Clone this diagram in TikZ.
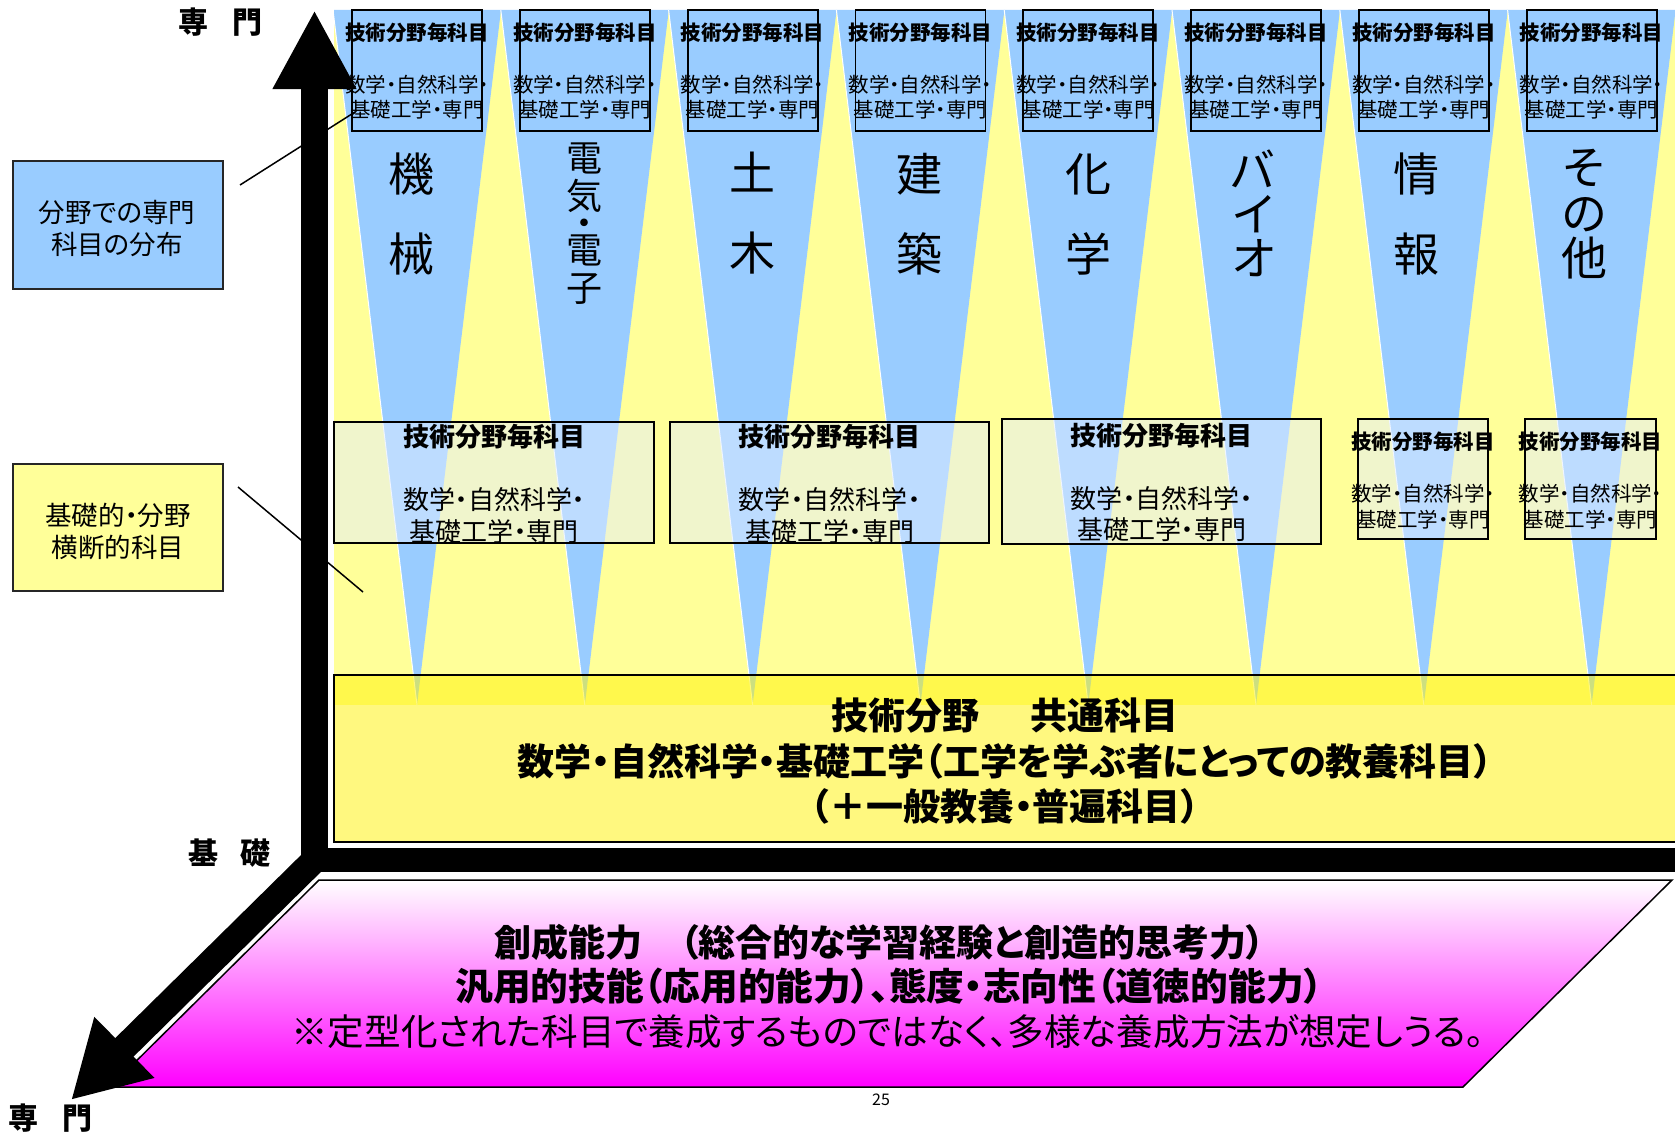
\documentclass[tikz,border=0pt]{standalone}
\usepackage{fontspec}
\setmainfont{Noto Sans CJK JP}[RawFeature={+palt}]
\usetikzlibrary{arrows.meta}
\definecolor{fblue}{RGB}{153,204,255}
\definecolor{fyellow}{RGB}{255,255,153}
\definecolor{midfill}{RGB}{226,236,255}
\newcommand\fsz[2]{\fontsize{#1pt}{#2pt}\selectfont}
\begin{document}
\begin{tikzpicture}[x=1pt,y=-1pt,
  topbox/.style={draw=black, line width=1.8pt, minimum width=130pt, minimum height=121pt, inner sep=0pt},
  toptitle/.style={font={\fsz{20.5}{25}\bfseries}, inner sep=0pt},
  topbody/.style={font={\fsz{20.5}{25}}, align=center, inner sep=0pt},
  biglab/.style={font={\fsz{46}{80}}, align=center, inner sep=0pt},
  midbox/.style={draw=black, line width=2pt, fill=midfill, fill opacity=0.5, draw opacity=1, inner sep=0pt},
  midtitle/.style={font={\fsz{26}{31}\bfseries}, inner sep=0pt},
  midbody/.style={font={\fsz{26}{32}}, align=center, inner sep=0pt},
  sidebox/.style={draw=black!85, line width=1.5pt, minimum width=210pt, inner sep=0pt},
  sidetext/.style={inner sep=0pt, align=center, font={\fsz{26.5}{32}}},
  axlab/.style={font={\fsz{30}{30}\bfseries}, inner sep=0pt},
  axisbar/.style={line width=27pt, black},
  ptext/.style={inner sep=0pt, font={\fsz{37}{37}\bfseries}},
  callout/.style={line width=1.5pt, black}
]
\useasboundingbox (0,0) rectangle (1675,1132);
\fill[white] (0,0) rectangle (1675,1132);

% background yellow and blue wedges
\fill[fyellow] (334,10) rectangle (1675,705);
\foreach \i in {0,...,7}{
  \pgfmathsetmacro\c{417+167.8*\i}
  \fill[fblue] (\c-84,10) -- (\c+84,10) -- (\c,705) -- cycle;
  \draw[white, line width=1pt] (\c-84,10) -- (\c,705);
}
\fill[white] (300,0) rectangle (334,720);

% top boxes
\foreach \i in {0,...,7}{
  \pgfmathsetmacro\c{417+167.8*\i}
  \node[topbox] (tb\i) at (\c,70.5) {};
  \node[toptitle] (tt\i) at (\c,33) {技術分野毎科目};
  \node[topbody] (tx\i) at (\c,97.5) {数学・自然科学・\\基礎工学・専門};
}

% big field labels
\node[biglab] (l0) at (411,214) {機\\械};
\node[biglab, font={\fsz{36}{38}}] (l1) at (584,224) {電\\気\\[-11pt]・\\[-11pt]電\\子};
\node[biglab] (l2) at (752,213) {土\\木};
\node[biglab] (l3) at (919,214) {建\\築};
\node[biglab] (l4) at (1088,214) {化\\学};
\node[biglab, font={\fsz{46}{44}}] (l5) at (1253,213) {バ\\イ\\オ};
\node[biglab] (l6) at (1416,214) {情\\報};
\node[biglab, font={\fsz{46}{45.5}}] (l7) at (1584,214.5) {そ\\の\\他};

% middle boxes
\node[midbox, minimum width=320pt, minimum height=121pt] (mA) at (494,482.5) {};
\node[midbox, minimum width=319pt, minimum height=121pt] (mB) at (829.5,482.5) {};
\node[midbox, minimum width=319pt, minimum height=125pt] (mC) at (1161.5,481.5) {};
\node[midbox, minimum width=130pt, minimum height=120pt] (mD) at (1423,479) {};
\node[midbox, minimum width=131pt, minimum height=120pt] (mE) at (1590.5,479) {};
\node[midtitle] (mAt) at (494,437) {技術分野毎科目};
\node[midbody] (mAb) at (494,516) {数学・自然科学・\\基礎工学・専門};
\node[midtitle] (mBt) at (829.5,437) {技術分野毎科目};
\node[midbody] (mBb) at (829.5,516) {数学・自然科学・\\基礎工学・専門};
\node[midtitle] (mCt) at (1161.5,436) {技術分野毎科目};
\node[midbody, font={\fsz{26}{31}}] (mCb) at (1161.5,514.5) {数学・自然科学・\\基礎工学・専門};
\node[toptitle] (mDt) at (1423,442) {技術分野毎科目};
\node[topbody, font={\fsz{20.5}{26}}] (mDb) at (1423,506.5) {数学・自然科学・\\基礎工学・専門};
\node[toptitle] (mEt) at (1590.5,442) {技術分野毎科目};
\node[topbody, font={\fsz{20.5}{26}}] (mEb) at (1590.5,506.5) {数学・自然科学・\\基礎工学・専門};

% common box
\node[draw=black, line width=2pt, fill=yellow, fill opacity=0.5, draw opacity=1, minimum width=1346pt, minimum height=167pt, inner sep=0pt] (common) at (1007,758.5) {};
\node[inner sep=0pt, align=center, font={\fsz{37}{45.5}\bfseries}] (commontxt) at (1005,761.5)
  {技術分野\hspace{1.4em}共通科目\\数学・自然科学・基礎工学（工学を学ぶ者にとっての教養科目）\\（＋一般教養・普遍科目）};

% side boxes
\node[sidebox, fill=fblue, minimum height=128pt] (sideblue) at (118,225) {};
\node[sidetext] (sidebluetxt) at (117,229) {分野での専門\\科目の分布};
\node[sidebox, fill=fyellow, minimum height=127pt] (sideyellow) at (118,527.5) {};
\node[sidetext] (sideyellowtxt) at (118,531) {基礎的・分野\\横断的科目};

% callout lines
\coordinate (c1s) at (240,185);
\coordinate (c1e) at (355,112);
\coordinate (c2s) at (238,487);
\coordinate (c2e) at (363,592);
\draw[callout] (c1s) -- (c1e);
\draw[callout] (c2s) -- (c2e);

% bottom parallelogram
\coordinate (P1) at (319,880);
\coordinate (P2) at (1672,880);
\coordinate (P3) at (1463,1087);
\coordinate (P4) at (110,1087);
\shade[top color=white, middle color=magenta!35, bottom color=magenta] (P1) -- (P2) -- (P3) -- (P4) -- cycle;
\draw[line width=1.5pt] (P1) -- (P2) -- (P3) -- (P4) -- cycle;
\node[ptext] (p1) at (880,942) {創成能力　（総合的な学習経験と創造的思考力）};
\node[ptext, font={\fsz{37.7}{37.7}\bfseries}] (p2) at (889,986) {汎用的技能（応用的能力）、態度・志向性（道徳的能力）};
\node[ptext, font={\fsz{36.6}{36.6}}] (p3) at (888,1032) {※定型化された科目で養成するものではなく、多様な養成方法が想定しうる。};

% axes
\coordinate (O) at (314.5,860);
\coordinate (Ybot) at (314.5,872);
\coordinate (Ytip) at (314.5,10);
\coordinate (Xstart) at (301,860);
\coordinate (Xend) at (1680,860);
\coordinate (Ztip) at (71,1100);
\draw[axisbar, -{Triangle[length=79pt,width=78pt]}] (Ybot) -- (Ytip);
\draw[black, line width=24pt] (Xstart) -- (Xend);
\draw[black, line width=26pt, -{Triangle[length=75pt,width=80pt]}] (O) -- (Ztip);

% axis labels
\node[axlab] (lt) at (220,22) {専\hspace{0.8em}門};
\node[axlab] (lm) at (229.5,853) {基\hspace{0.75em}礎};
\node[axlab] (lb) at (51,1118) {専\hspace{0.8em}門};
\node[inner sep=0pt, font={\fsz{16}{16}}] (pg) at (881,1100) {25};
\end{tikzpicture}
\end{document}
